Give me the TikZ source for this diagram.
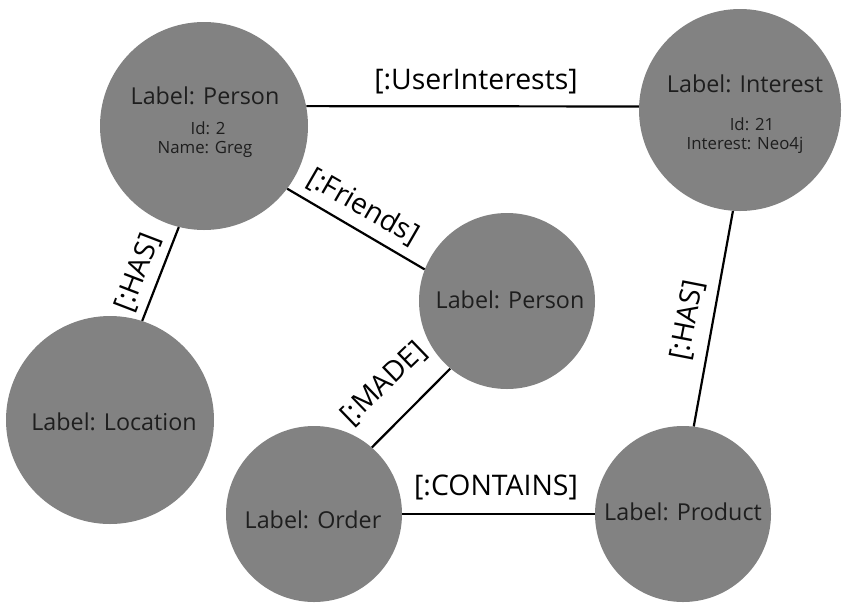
\documentclass[tikz,border=0pt]{standalone}
\usepackage{fontspec}
\setmainfont{Open Sans}
\definecolor{nodegray}{HTML}{828282}
\definecolor{ink}{HTML}{1E1E1E}
\begin{document}
\begin{tikzpicture}[x=1pt,y=-1pt,
  entity/.style={circle, fill=nodegray, draw=none, inner sep=0pt, minimum size=#1},
  title/.style={text=ink, inner sep=0pt, font=\fontsize{23.3}{27}\selectfont},
  prop/.style={text=ink, inner sep=0pt, font=\fontsize{16.8}{20}\selectfont},
  rel/.style={draw=black, line width=2.2pt},
  rellabel/.style={text=black, inner sep=0pt, font=\fontsize{28.4}{32}\selectfont}]
\useasboundingbox (0,0) rectangle (842,603);

% entities
\node[entity=208pt] (p1) at (204,126) {};
\node[entity=202pt] (interest) at (740,110) {};
\node[entity=176pt] (p2) at (507,301) {};
\node[entity=208pt] (loc) at (110,420) {};
\node[entity=176pt] (order) at (314,514) {};
\node[entity=176pt] (product) at (683,514) {};

% entity texts
\node[title] (p1t) at (205,96) {Label: Person};
\node[prop] (p1id) at (208,128) {Id: 2};
\node[prop] (p1name) at (205,149) {Name: Greg};
\node[title] (intt) at (745,84) {Label: Interest};
\node[prop] (intid) at (752,124) {Id: 21};
\node[prop] (intname) at (745,145) {Interest: Neo4j};
\node[title] (p2t) at (510,300) {Label: Person};
\node[title] (loct) at (114,422) {Label: Location};
\node[title] (ordert) at (313,520) {Label: Order};
\node[title] (productt) at (683,512) {Label: Product};

% relationships
\draw[rel] (p1.11) -- (interest.178);
\draw[rel] (p1.-37.6) -- (p2.159);
\draw[rel] (p1.256) -- (loc.72);
\draw[rel] (p2.230) -- (order.49);
\draw[rel] (order.0) -- (product.180);
\draw[rel] (interest.-94) -- (product.83);

% relationship labels
\node[rellabel] (lui) at (476,82) {[:UserInterests]};
\node[rellabel, rotate=-30] (lfr) at (363,207) {[:Friends]};
\node[rellabel, rotate=69] (lhas1) at (138,273) {[:HAS]};
\node[rellabel, rotate=44] (lmade) at (384,384) {[:MADE]};
\node[rellabel, rotate=79] (lhas2) at (688,320) {[:HAS]};
\node[rellabel] (lcont) at (496,487) {[:CONTAINS]};
\end{tikzpicture}
\end{document}
